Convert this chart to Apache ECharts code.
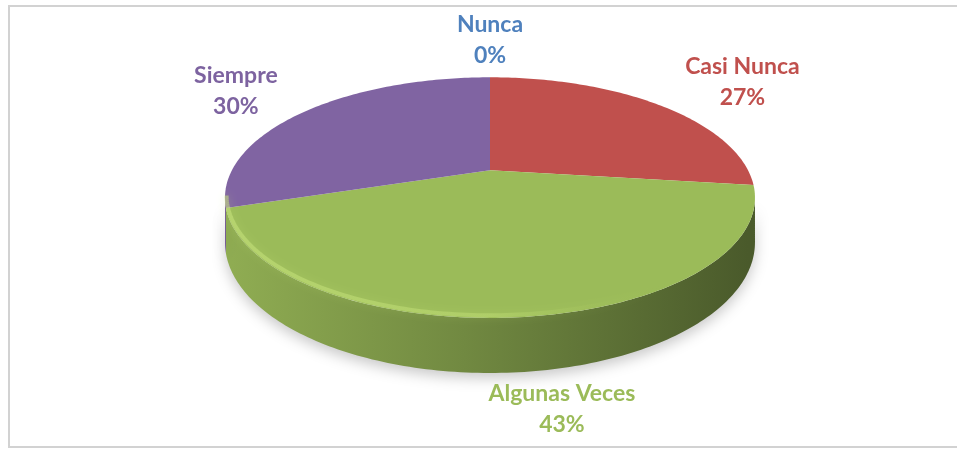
<!DOCTYPE html>
<html><head><meta charset="utf-8">
<script src="https://cdn.jsdelivr.net/npm/echarts@6/dist/echarts.min.js"></script>
<style>html,body{margin:0;padding:0;background:#fff}#c{width:957px;height:449px}</style>
</head><body><div id="c"></div>
<script>
// ---- data ----
const categories = ['Nunca', 'Casi Nunca', 'Algunas Veces', 'Siempre'];
const percents = [0, 27, 43, 30];

// ---- styles ----
const sliceColors = ['#4f81bd', '#c0504d', '#9bbb59', '#8064a2'];
const labelColors = ['#4f81bd', '#c0504d', '#9bbb59', '#7d63a0'];
const FONT_FAMILY = 'Lato';
const FONT_SIZE = 23;
const LINE_H = 31;

const total = percents.reduce((a, b) => a + b, 0);
const starts = [];
(function () { let acc = 0; for (const p of percents) { starts.push(acc / total * 360); acc += p; } })();

const measureCtx = document.createElement('canvas').getContext('2d');
function textWidth(s) {
  measureCtx.font = 'bold ' + FONT_SIZE + 'px ' + FONT_FAMILY;
  return measureCtx.measureText(s).width;
}
function shade(hex, f) {
  const n = parseInt(hex.slice(1), 16);
  let r = (n >> 16) & 255, g = (n >> 8) & 255, b = n & 255;
  const t = c => Math.round(f < 0 ? c * (1 + f) : c + (255 - c) * f);
  return 'rgb(' + t(r) + ',' + t(g) + ',' + t(b) + ')';
}

const chart = echarts.init(document.getElementById('c'), null, { renderer: 'canvas' });

function renderItem(params, api) {
  const i = params.dataIndex;
  const W = api.getWidth(), H = api.getHeight();
  const cx = W * 0.512, cy = H * 0.379, RX = W * 0.2696, RY = H * 0.254, K = 0.228, D = H * 0.0947;
  const rad = d => d * Math.PI / 180;
  const projT = t => { const u = Math.sin(rad(t)), v = Math.cos(rad(t)); const w = 1 + K * v; return [cx + RX * u / w, cy - RY * v / w]; };
  const projB = t => { const p = projT(t); const w = 1 + K * Math.cos(rad(t)); return [p[0], p[1] + D / w]; };
  const arc = (a, b, f) => { const pts = []; const n = Math.max(2, Math.ceil(Math.abs(b - a))); for (let k = 0; k <= n; k++) pts.push(f(a + (b - a) * k / n)); return pts; };

  const a = starts[i];
  const span = percents[i] / total * 360;
  const b = a + span;
  const base = sliceColors[i];
  const children = [];
  const tMin = Math.acos(-K) * 180 / Math.PI, tMax = 360 - tMin;

  if (span > 0) {
    // side wall (front-facing part)
    const wa = Math.max(a, tMin), wb = Math.min(b, tMax);
    if (wb > wa) {
      const top = arc(wa, wb, projT);
      const bot = arc(wa, wb, projB).reverse();
      children.push({
        type: 'polygon', z2: 1,
        shape: { points: top.concat(bot) },
        style: {
          fill: new echarts.graphic.LinearGradient(cx - RX, 0, cx + RX, 0, [
            { offset: 0, color: shade(base, -0.08) },
            { offset: 0.45, color: shade(base, -0.27) },
            { offset: 1, color: shade(base, -0.52) }
          ], true),
          shadowBlur: 14, shadowColor: 'rgba(0,0,0,0.22)', shadowOffsetY: 5
        }
      });
    }
    // top face
    children.push({
      type: 'polygon', z2: 10,
      shape: { points: [[cx, cy]].concat(arc(a, b, projT)) },
      style: { fill: base }
    });
    // soft bevel highlight along the front edge of the top face
    if (wb > wa) {
      children.push({
        type: 'polyline', z2: 12,
        shape: { points: arc(wa, wb, t => { const p = projT(t); const w = 1 + K * Math.cos(rad(t)); return [p[0] + (cx - p[0]) * 0.006, p[1] - 2 / w]; }) },
        style: {
          fill: null, lineWidth: 4,
          stroke: new echarts.graphic.LinearGradient(cx - RX, 0, cx + RX, 0, [
            { offset: 0, color: 'rgba(200,228,125,0.55)' },
            { offset: 0.5, color: 'rgba(195,225,120,0.45)' },
            { offset: 0.85, color: 'rgba(150,180,80,0.0)' }
          ], true),
          shadowBlur: 8, shadowColor: 'rgba(200,230,120,0.5)'
        }
      });
    }
  }

  // label
  const m = a + span / 2;
  const front = m > tMin && m < tMax;
  const edge = front ? projB(m) : projT(m);
  let dx = edge[0] - cx, dy = edge[1] - cy;
  const len = Math.hypot(dx, dy) || 1; dx /= len; dy /= len;
  const sx = Math.sign(dx) * Math.sqrt(Math.abs(dx)), sy = Math.sign(dy) * Math.sqrt(Math.abs(dy));
  const name = categories[i], pct = Math.round(percents[i] / total * 100) + '%';
  const bw = Math.max(textWidth(name), textWidth(pct));
  const bh = LINE_H * 2;
  const lx = edge[0] + sx * (bw / 2 + 30);
  const ly = edge[1] + sy * (bh / 2 + 6);
  children.push({
    type: 'text', z2: 20,
    x: lx, y: ly,
    style: {
      text: name + '\n' + pct,
      fill: labelColors[i],
      font: 'bold ' + FONT_SIZE + 'px ' + FONT_FAMILY,
      align: 'center', verticalAlign: 'middle', lineHeight: LINE_H
    }
  });

  return { type: 'group', children };
}

chart.setOption({
  backgroundColor: '#ffffff',
  animation: false,
  graphic: [{
    type: 'rect', silent: true,
    shape: { x: 9, y: 6, width: 970, height: 441 },
    style: { fill: 'none', stroke: '#d2d2d2', lineWidth: 2 }
  }],
  series: [{
    type: 'custom',
    coordinateSystem: 'none',
    silent: true,
    renderItem: renderItem,
    data: percents.map((p, i) => ({ name: categories[i], value: [p] }))
  }]
});
</script>
</body></html>
